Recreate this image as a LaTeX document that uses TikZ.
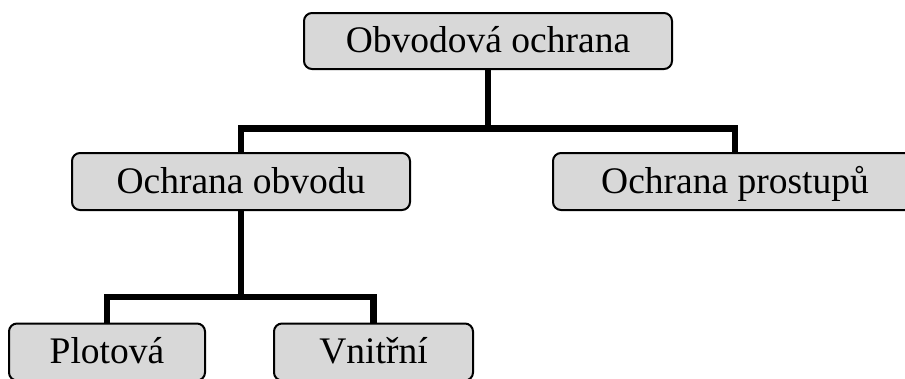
\documentclass[tikz,border=0pt]{standalone}
\usepackage{fontspec}
\setmainfont{Liberation Serif}
\usetikzlibrary{backgrounds}
\definecolor{boxgray}{RGB}{216,216,216}
\tikzset{
  orgbox/.style={draw=black, line width=2pt, fill=boxgray, rounded corners=8pt,
    font=\fontsize{37.5pt}{41pt}\selectfont, text height=23.5pt, text depth=0pt,
    inner sep=0pt, minimum height=57pt},
  conn/.style={draw=black, line width=6.5pt, line join=miter, line cap=butt}
}
\begin{document}
\begin{tikzpicture}[x=1pt,y=-1pt]
  \useasboundingbox (0,0) rectangle (905,378);
  \clip (0,0) rectangle (905,378);

  % junction points of the bus lines
  \coordinate (bus1) at (488,128.5);
  \coordinate (bus2) at (241,297);

  % boxes of the hierarchy
  \node[orgbox, minimum width=368pt, minimum height=56pt] (root) at (488,41) {Obvodová ochrana};
  \node[orgbox, minimum width=338pt] (obvod) at (241,181.5) {Ochrana obvodu};
  \node[orgbox, minimum width=372pt] (prostup) at (739,181.5) {\hspace*{-8pt}Ochrana prostupů};
  \node[orgbox, minimum width=196pt] (plot) at (107,352) {Plotová};
  \node[orgbox, minimum width=199pt] (vnitr) at (373.5,352) {Vnitřní};

  % connectors, kept behind the boxes
  \begin{pgfonlayer}{background}
    \draw[conn] (root.south) -- (bus1);
    \draw[conn] (obvod.north) |- (bus1) -| ([xshift=-4pt]prostup.north);
    \draw[conn] (obvod.south) -- (bus2);
    \draw[conn] (plot.north) |- (bus2) -| (vnitr.north);
  \end{pgfonlayer}
\end{tikzpicture}
\end{document}
